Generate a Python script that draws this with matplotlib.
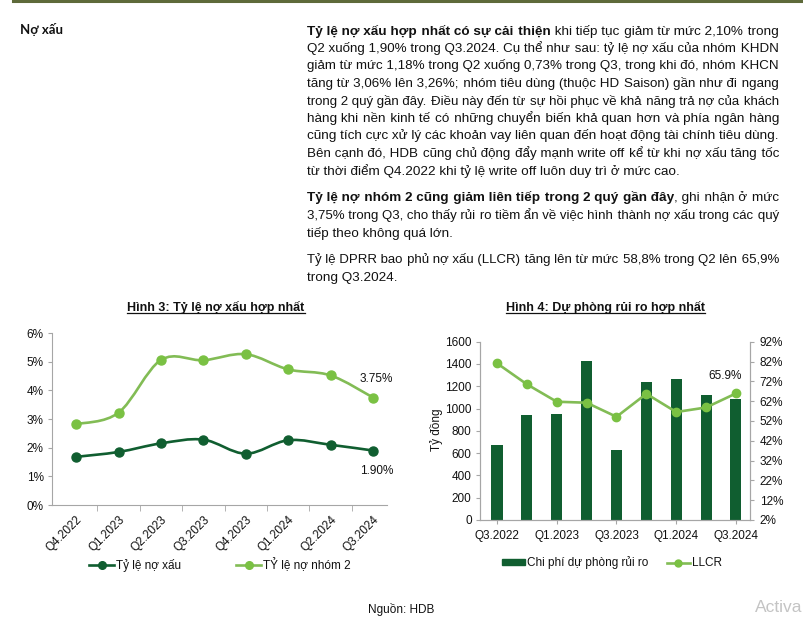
import matplotlib
matplotlib.use("Agg")
import matplotlib.pyplot as plt
import numpy as np
from matplotlib.path import Path
from matplotlib.patches import PathPatch
from matplotlib.lines import Line2D
from matplotlib.ticker import FixedLocator, FuncFormatter

plt.rcParams.update({
    "font.family": ["Liberation Sans", "DejaVu Sans"],
    "font.size": 8.5,
    "text.color": "#111111",
    "axes.edgecolor": "#A6A6A6",
    "axes.linewidth": 0.8,
    "xtick.color": "#A6A6A6",
    "ytick.color": "#A6A6A6",
    "xtick.labelcolor": "#111111",
    "ytick.labelcolor": "#111111",
    "axes.spines.top": False,
    "axes.spines.right": False,
})

W, H = 804, 627
DARK = "#105E30"
LIGHT = "#7AC143"
LIGHT_LINE = "#82BC55"
BODY_SIZE = 9.7

# --- data: Hinh 3 ---
quarters3 = ["Q4.2022", "Q1.2023", "Q2.2023", "Q3.2023", "Q4.2023", "Q1.2024", "Q2.2024", "Q3.2024"]
npl = [1.68, 1.85, 2.15, 2.28, 1.79, 2.26, 2.10, 1.90]
group2 = [2.82, 3.22, 5.06, 5.05, 5.26, 4.73, 4.52, 3.75]

# --- data: Hinh 4 ---
quarters4 = ["Q3.2022", "Q4.2022", "Q1.2023", "Q2.2023", "Q3.2023", "Q4.2023", "Q1.2024", "Q2.2024", "Q3.2024"]
provision = [673, 940, 950, 1425, 628, 1237, 1265, 1120, 1085]
llcr = [81.1, 70.5, 61.7, 61.2, 54.1, 65.7, 56.5, 58.8, 65.9]

para1 = [
    "**Tỷ lệ nợ xấu hợp nhất có sự cải thiện** khi tiếp tục giảm từ mức 2,10% trong",
    "Q2 xuống 1,90% trong Q3.2024. Cụ thể như sau: tỷ lệ nợ xấu của nhóm KHDN",
    "giảm từ mức 1,18% trong Q2 xuống 0,73% trong Q3, trong khi đó, nhóm KHCN",
    "tăng từ 3,06% lên 3,26%; nhóm tiêu dùng (thuộc HD Saison) gần như đi ngang",
    "trong 2 quý gần đây. Điều này đến từ sự hồi phục về khả năng trả nợ của khách",
    "hàng khi nền kinh tế có những chuyển biến khả quan hơn và phía ngân hàng",
    "cũng tích cực xử lý các khoản vay liên quan đến hoạt động tài chính tiêu dùng.",
    "Bên cạnh đó, HDB cũng chủ động đẩy mạnh write off kể từ khi nợ xấu tăng tốc",
    "từ thời điểm Q4.2022 khi tỷ lệ write off luôn duy trì ở mức cao.",
]
para2 = [
    "**Tỷ lệ nợ nhóm 2 cũng giảm liên tiếp trong 2 quý gần đây**, ghi nhận ở mức",
    "3,75% trong Q3, cho thấy rủi ro tiềm ẩn về việc hình thành nợ xấu trong các quý",
    "tiếp theo không quá lớn.",
]
para3 = [
    "Tỷ lệ DPRR bao phủ nợ xấu (LLCR) tăng lên từ mức 58,8% trong Q2 lên 65,9%",
    "trong Q3.2024.",
]

fig = plt.figure(figsize=(W / 100, H / 100), dpi=100, facecolor="white")
renderer = fig.canvas.get_renderer()


def fx(x):
    return x / W


def fy(y):
    return 1 - y / H


def rect(x0, y0, x1, y1):
    return [fx(x0), fy(y1), (x1 - x0) / W, (y1 - y0) / H]


# top rule
fig.add_artist(Line2D([fx(13), 1], [fy(1), fy(1)], color="#5E6A3A", lw=2.2))
fig.text(fx(20), fy(30), "Nợ xấu", fontsize=9.5, fontweight="bold", va="center",
         family=["Lato", "Liberation Sans", "DejaVu Sans"])


def text_width(s, bold, size):
    t = fig.text(0, 0, s, fontsize=size, fontweight="bold" if bold else "normal")
    w = t.get_window_extent(renderer).width
    t.remove()
    return w


def seg_width(s, bold, size):
    # bracket with bars so leading/trailing spaces are counted
    return text_width("|" + s + "|", bold, size) - text_width("||", bold, size)


HAIR = "\u200a"


def draw_paragraph(lines, x0, x1, y0, dy):
    # justified lines: extra width goes into hair spaces after each space
    for k, line in enumerate(lines):
        base = y0 + k * dy + 4.5
        segs = [(p, i % 2 == 1) for i, p in enumerate(line.split("**")) if p]
        ngap = sum(p.count(" ") for p, b in segs)
        last = k == len(lines) - 1
        size = BODY_SIZE
        while True:
            natural = sum(seg_width(p, b, size) for p, b in segs)
            if natural <= x1 - x0 or size < 7:
                break
            size -= 0.1
        hw = max(seg_width(HAIR, False, size), 0.3)
        total = 0 if last else int(round((x1 - x0 - natural) / hw))
        cuts = [(i + 1) * total // ngap - i * total // ngap for i in range(ngap)] if ngap else []
        gi = 0
        x = x0
        for p, b in segs:
            out = ""
            for ch in p:
                out += ch
                if ch == " ":
                    out += HAIR * cuts[gi]
                    gi += 1
            fig.text(fx(x), fy(base), out, fontsize=size, va="baseline",
                     fontweight="bold" if b else "normal")
            x += seg_width(out, b, size)


draw_paragraph(para1, 307, 779, 30, 17.5)
draw_paragraph(para2, 307, 779, 197, 17.5)
draw_paragraph(para3, 307, 779, 259, 17.5)


def smooth_path(xs, ys):
    pts = np.column_stack([xs, ys]).astype(float)
    ext = np.vstack([pts[0], pts, pts[-1]])
    verts = [pts[0]]
    codes = [Path.MOVETO]
    for i in range(len(pts) - 1):
        p0, p1, p2, p3 = ext[i], ext[i + 1], ext[i + 2], ext[i + 3]
        verts += [p1 + (p2 - p0) / 6, p2 - (p3 - p1) / 6, p2]
        codes += [Path.CURVE4] * 3
    return Path(verts, codes)


def titled(x, y, s):
    t = fig.text(fx(x), fy(y), s, fontsize=9, fontweight="bold", ha="center", va="center")
    bb = t.get_window_extent(renderer)
    fig.add_artist(Line2D([bb.x0 / W, bb.x1 / W], [(bb.y0 + 0.5) / H] * 2, color="#111111", lw=0.9))


# ---- Hinh 3 ----
titled(216, 307, "Hình 3: Tỷ lệ nợ xấu hợp nhất")
ax1 = fig.add_axes(rect(52, 333, 387, 505))
x3 = np.arange(len(quarters3))
ax1.add_patch(PathPatch(smooth_path(x3, group2), fill=False, ec=LIGHT_LINE, lw=1.9))
ax1.add_patch(PathPatch(smooth_path(x3, npl), fill=False, ec=DARK, lw=1.9))
ax1.plot(x3, group2, ls="none", marker="o", ms=6.5, color=LIGHT, label="TỶ lệ nợ nhóm 2")
ax1.plot(x3, npl, ls="none", marker="o", ms=6.5, color=DARK, label="Tỷ lệ nợ xấu")
ax1.set_xlim(-0.57, 7.33)
ax1.set_ylim(0, 6)
ax1.yaxis.set_major_locator(FixedLocator(range(0, 7)))
ax1.yaxis.set_major_formatter(FuncFormatter(lambda v, p: f"{v:.0f}%"))
ax1.tick_params(axis="y", length=3, pad=3, labelsize=8.5)
ax1.set_xticks(x3)
ax1.set_xticklabels(quarters3, rotation=45, ha="right", va="top", rotation_mode="anchor", fontsize=8.5)
ax1.tick_params(axis="x", which="major", length=0, pad=6)
ax1.xaxis.set_minor_locator(FixedLocator(np.arange(0.5, 7.5, 1)))
ax1.tick_params(axis="x", which="minor", length=4)
ax1.annotate(f"{group2[-1]:.2f}%", (x3[-1], group2[-1]), xytext=(3, 19),
             textcoords="offset pixels", ha="center", va="center", fontsize=8.5)
ax1.annotate(f"{npl[-1]:.2f}%", (x3[-1], npl[-1]), xytext=(4, -20),
             textcoords="offset pixels", ha="center", va="center", fontsize=8.5)
h1 = [Line2D([], [], color=DARK, lw=1.9, marker="o", ms=5.5),
      Line2D([], [], color=LIGHT_LINE, lw=1.9, marker="o", ms=5.5, mfc=LIGHT, mec=LIGHT)]
ax1.legend(h1, ["Tỷ lệ nợ xấu", "TỶ lệ nợ nhóm 2"], ncol=2, frameon=False, fontsize=8.5,
           loc="center", bbox_to_anchor=(fx(220), fy(565)), bbox_transform=fig.transFigure,
           handlelength=2.1, handletextpad=0.15, columnspacing=4.7)

# ---- Hinh 4 ----
titled(606, 307, "Hình 4: Dự phòng rủi ro hợp nhất")
ax2 = fig.add_axes(rect(480, 341.7, 750, 520))
x4 = np.arange(len(quarters4))
ax2.bar(x4, provision, width=0.37, color=DARK, label="Chi phí dự phòng rủi ro")
ax2.set_xlim(-0.57, 8.47)
ax2.set_ylim(0, 1600)
ax2.yaxis.set_major_locator(FixedLocator(range(0, 1601, 200)))
ax2.tick_params(axis="y", length=3, pad=3, labelsize=8.5)
ax2.set_xticks(x4[::2])
ax2.set_xticklabels(quarters4[::2], fontsize=8.5)
ax2.tick_params(axis="x", which="major", length=3, pad=4)
ax2.spines["right"].set_visible(True)
fig.text(fx(437), fy(430), "Tỷ đồng", rotation=90, ha="center", va="center", fontsize=8.5)

ax3 = ax2.twinx()
ax3.plot(x4, llcr, color=LIGHT_LINE, lw=1.9, marker="o", ms=6, mfc=LIGHT, mec=LIGHT, label="LLCR")
ax3.set_ylim(2, 92)
ax3.yaxis.set_major_locator(FixedLocator(range(2, 93, 10)))
ax3.yaxis.set_major_formatter(FuncFormatter(lambda v, p: f"{v:.0f}%"))
ax3.tick_params(axis="y", length=3, pad=4, labelsize=8.5)
ax3.spines["right"].set_visible(True)
ax3.spines["top"].set_visible(False)
ax3.annotate(f"{llcr[-1]:.1f}%", (x4[-1], llcr[-1]), xytext=(-11, 17),
             textcoords="offset pixels", ha="center", va="center", fontsize=8.5)
h2 = [plt.Rectangle((0, 0), 1, 1, color=DARK),
      Line2D([], [], color=LIGHT_LINE, lw=1.9, marker="o", ms=5, mfc=LIGHT, mec=LIGHT)]
ax2.legend(h2, ["Chi phí dự phòng rủi ro", "LLCR"], ncol=2, frameon=False, fontsize=8.5,
           loc="center", bbox_to_anchor=(fx(612), fy(563)), bbox_transform=fig.transFigure,
           handlelength=1.9, handleheight=0.45, handletextpad=0.2, columnspacing=1.6)

fig.text(fx(401), fy(610), "Nguồn: HDB", ha="center", va="center", fontsize=8.5)
fig.text(fx(802), fy(607), "Activa", ha="right", va="center", fontsize=12.5, color="#C4C4C4")

fig.savefig("out.png", dpi=100, facecolor="white")
